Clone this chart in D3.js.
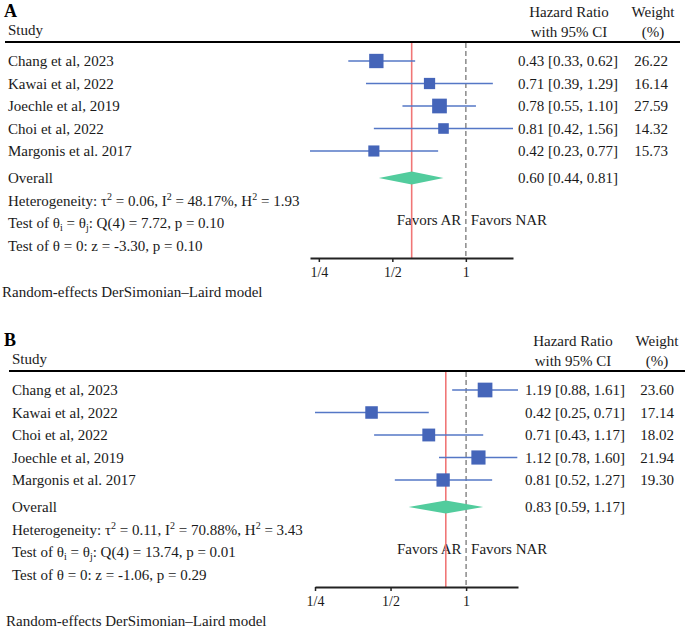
<!DOCTYPE html>
<html>
<head>
<meta charset="utf-8">
<script src="https://cdn.jsdelivr.net/npm/d3@7"></script>
<style>
  html, body { margin: 0; padding: 0; background: #fff; }
  svg { display: block; font-family: "Liberation Serif", "Times New Roman", serif; }
</style>
</head>
<body>
<svg id="chart" width="685" height="628"></svg>
<script>
// ---------- DATA ----------
const studiesA = ["Chang et al, 2023", "Kawai et al, 2022", "Joechle et al, 2019", "Choi et al, 2022", "Margonis et al. 2017"];
const hrA      = [0.43, 0.71, 0.78, 0.81, 0.42];
const lowerA   = [0.33, 0.39, 0.55, 0.42, 0.23];
const upperA   = [0.62, 1.29, 1.10, 1.56, 0.77];
const weightA  = [26.22, 16.14, 27.59, 14.32, 15.73];
const overallA = [0.60, 0.44, 0.81];
const statsA   = [
  ["Heterogeneity: ", ["τ", "2"], " = 0.06, ", ["I", "2"], " = 48.17%, ", ["H", "2"], " = 1.93"],
  ["Test of ", ["θ", "i", "sub"], " = ", ["θ", "j", "sub"], ": Q(4) = 7.72, p = 0.10"],
  ["Test of θ = 0: z = -3.30, p = 0.10"]
];

const studiesB = ["Chang et al, 2023", "Kawai et al, 2022", "Choi et al, 2022", "Joechle et al, 2019", "Margonis et al. 2017"];
const hrB      = [1.19, 0.42, 0.71, 1.12, 0.81];
const lowerB   = [0.88, 0.25, 0.43, 0.78, 0.52];
const upperB   = [1.61, 0.71, 1.17, 1.60, 1.27];
const weightB  = [23.60, 17.14, 18.02, 21.94, 19.30];
const overallB = [0.83, 0.59, 1.17];
const statsB   = [
  ["Heterogeneity: ", ["τ", "2"], " = 0.11, ", ["I", "2"], " = 70.88%, ", ["H", "2"], " = 3.43"],
  ["Test of ", ["θ", "i", "sub"], " = ", ["θ", "j", "sub"], ": Q(4) = 13.74, p = 0.01"],
  ["Test of θ = 0: z = -1.06, p = 0.29"]
];

const tickValues = [0.25, 0.5, 1];
const tickLabels = ["1/4", "1/2", "1"];
const favorLabels = ["Favors AR", "Favors NAR"];
const modelNote = "Random-effects DerSimonian–Laird model";

// ---------- STYLE ----------
const C = {
  square: "#4565B9",
  ci: "#5577C6",
  diamond: "#52CC9D",
  red: "#F07676",
  ref: "#8a8a8a",
  text: "#1a1a1a"
};

const svg = d3.select("#chart");

function drawPanel(cfg) {
  const g = svg.append("g").attr("transform", `translate(0,${cfg.dy})`);
  const fs = 15;

  // panel label + headers
  g.append("text").attr("x", 4).attr("y", 17).attr("font-size", 18).attr("font-weight", "bold")
    .attr("fill", "#000").text(cfg.label);
  g.append("text").attr("x", cfg.studyX).attr("y", 35).attr("font-size", fs).attr("fill", C.text).text("Study");
  g.append("text").attr("x", cfg.hrX).attr("y", 17).attr("font-size", fs).attr("text-anchor", "middle").attr("fill", C.text).text("Hazard Ratio");
  g.append("text").attr("x", cfg.hrX).attr("y", 37).attr("font-size", fs).attr("text-anchor", "middle").attr("fill", C.text).text("with 95% CI");
  g.append("text").attr("x", cfg.wX).attr("y", 17).attr("font-size", fs).attr("text-anchor", "middle").attr("fill", C.text).text("Weight");
  g.append("text").attr("x", cfg.wX).attr("y", 37).attr("font-size", fs).attr("text-anchor", "middle").attr("fill", C.text).text("(%)");
  g.append("line").attr("x1", cfg.lineX0).attr("x2", cfg.lineX1).attr("y1", 42).attr("y2", 42)
    .attr("stroke", "#000").attr("stroke-width", 2);

  const lo = d3.min(cfg.lower), hi = d3.max(cfg.upper);
  const x = d3.scaleLog().base(2).domain([lo, hi]).range([cfg.axX0, cfg.axX1]);

  const rowY0 = 61, rowStep = 22.5;
  const y = i => rowY0 + i * rowStep;
  const overallY = 178;
  const axisY = 258;

  // favors labels (under the reference lines)
  g.append("text").attr("x", x(1) - 4.5).attr("y", 225).attr("font-size", fs).attr("text-anchor", "end")
    .attr("fill", C.text).text(favorLabels[0]);
  g.append("text").attr("x", x(1) + 5).attr("y", 225).attr("font-size", fs).attr("text-anchor", "start")
    .attr("fill", C.text).text(favorLabels[1]);

  // reference lines
  g.append("line").attr("x1", x(cfg.overall[0])).attr("x2", x(cfg.overall[0]))
    .attr("y1", 43).attr("y2", axisY).attr("stroke", C.red).attr("stroke-width", 1.6);
  g.append("line").attr("x1", x(1)).attr("x2", x(1))
    .attr("y1", 43).attr("y2", axisY).attr("stroke", C.ref).attr("stroke-width", 1.5)
    .attr("stroke-dasharray", "5,3");

  const maxW = d3.max(cfg.weight);
  const side = w => 14.7 * Math.sqrt(w / maxW);

  cfg.studies.forEach((s, i) => {
    g.append("text").attr("x", cfg.studyX).attr("y", y(i) + 5).attr("font-size", fs).attr("fill", C.text).text(s);
    g.append("line").attr("x1", x(cfg.lower[i])).attr("x2", x(cfg.upper[i]))
      .attr("y1", y(i)).attr("y2", y(i)).attr("stroke", C.ci).attr("stroke-width", 1.6);
    const sd = side(cfg.weight[i]);
    g.append("rect").attr("x", x(cfg.hr[i]) - sd / 2).attr("y", y(i) - sd / 2)
      .attr("width", sd).attr("height", sd).attr("fill", C.square);
    g.append("text").attr("x", cfg.hrValX).attr("y", y(i) + 5).attr("font-size", fs).attr("text-anchor", "middle")
      .attr("fill", C.text)
      .text(`${cfg.hr[i].toFixed(2)} [${cfg.lower[i].toFixed(2)}, ${cfg.upper[i].toFixed(2)}]`);
    g.append("text").attr("x", cfg.wValX).attr("y", y(i) + 5).attr("font-size", fs).attr("text-anchor", "middle")
      .attr("fill", C.text).text(cfg.weight[i].toFixed(2));
  });

  // overall
  g.append("text").attr("x", cfg.studyX).attr("y", overallY + 5).attr("font-size", fs).attr("fill", C.text).text("Overall");
  const [oe, ol, ou] = cfg.overall;
  const dh = 6.5;
  g.append("path")
    .attr("d", `M${x(ol)},${overallY} L${x(oe)},${overallY - dh} L${x(ou)},${overallY} L${x(oe)},${overallY + dh} Z`)
    .attr("fill", C.diamond);
  g.append("text").attr("x", cfg.hrValX).attr("y", overallY + 5).attr("font-size", fs).attr("text-anchor", "middle")
    .attr("fill", C.text).text(`${oe.toFixed(2)} [${ol.toFixed(2)}, ${ou.toFixed(2)}]`);

  // stats
  cfg.stats.forEach((parts, k) => {
    const t = g.append("text").attr("x", cfg.studyX).attr("y", overallY + (k + 1) * 22.7 + 5)
      .attr("font-size", fs).attr("fill", C.text);
    let pending = 0;
    parts.forEach(p => {
      if (typeof p === "string") {
        t.append("tspan").attr("dy", pending).text(p);
        pending = 0;
      } else {
        t.append("tspan").attr("dy", pending).text(p[0]);
        const isSub = p[2] === "sub";
        const shift = isSub ? 3 : -6;
        t.append("tspan").attr("font-size", 10).attr("dy", shift).text(p[1]);
        pending = -shift;
      }
    });
  });

  // axis
  const axis = d3.axisBottom(x).tickValues(tickValues)
    .tickFormat((d, i) => tickLabels[i]).tickSize(4).tickSizeOuter(0).tickPadding(5);
  const ag = g.append("g").attr("transform", `translate(0,${axisY})`).call(axis);
  ag.attr("font-family", "Liberation Serif, serif").attr("font-size", 14);
  ag.select(".domain").attr("stroke", "#222").attr("stroke-width", 2);
  ag.selectAll(".tick line").attr("stroke", "#222").attr("stroke-width", 1.5);
  ag.selectAll(".tick text").attr("fill", C.text);

  g.append("text").attr("x", cfg.noteX).attr("y", 297).attr("font-size", fs).attr("fill", C.text).text(modelNote);
}

drawPanel({
  label: "A", dy: 0, studies: studiesA, hr: hrA, lower: lowerA, upper: upperA, weight: weightA,
  overall: overallA, stats: statsA,
  studyX: 8, hrX: 569, hrValX: 568, wX: 653, wValX: 651,
  lineX0: 5, lineX1: 680, axX0: 310, axX1: 513, noteX: 2
});
drawPanel({
  label: "B", dy: 329, studies: studiesB, hr: hrB, lower: lowerB, upper: upperB, weight: weightB,
  overall: overallB, stats: statsB,
  studyX: 12, hrX: 573, hrValX: 575, wX: 657, wValX: 657,
  lineX0: 9, lineX1: 685, axX0: 315, axX1: 518, noteX: 6
});
</script>
</body>
</html>
